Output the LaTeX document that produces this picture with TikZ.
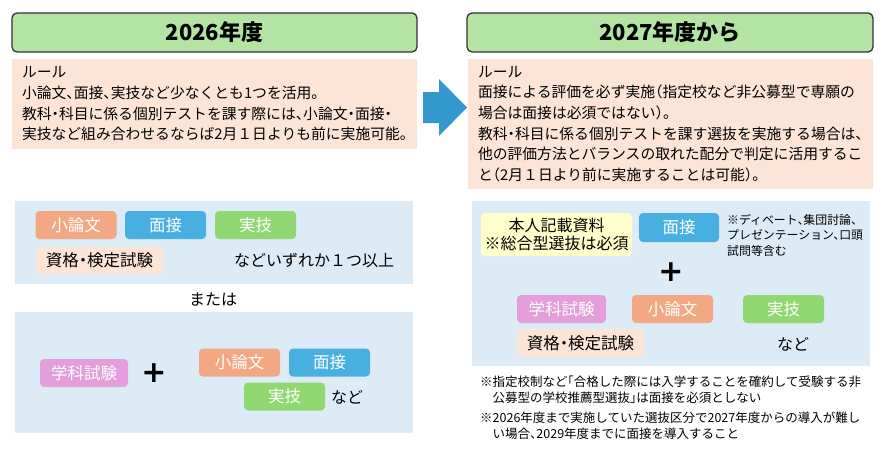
\documentclass[tikz,border=0pt]{standalone}
\usepackage{fontspec}
\setmainfont{Noto Sans CJK JP}[RawFeature=+halt]
\newfontfamily\plusfont{DejaVu Sans}
\definecolor{hdgreen}{HTML}{B4E4A4}
\definecolor{rulepink}{HTML}{FCE4D6}
\definecolor{boxblue}{HTML}{DDEBF7}
\definecolor{tagorange}{HTML}{F2A882}
\definecolor{tagblue}{HTML}{47B0E0}
\definecolor{taggreen}{HTML}{8FD872}
\definecolor{tagpink}{HTML}{E49EDB}
\definecolor{noteyellow}{HTML}{FFFFCC}
\definecolor{arrowblue}{HTML}{3399CC}
\tikzset{
  header/.style={draw=black!80,line width=1.3pt,fill=hdgreen,rounded corners=5pt,minimum width=405pt,minimum height=39pt,font=\fontsize{22}{24}\selectfont\bfseries},
  rulebox/.style={fill=rulepink,align=left,inner xsep=10pt,inner ysep=0pt,font=\fontsize{14.8}{20.7}\selectfont},
  tag/.style={rounded corners=4pt,minimum width=81pt,minimum height=28pt,inner sep=0pt,text=white,font=\fontsize{16.5}{18}\selectfont},
  lighttag/.style={tag,fill=rulepink,text=black,minimum width=127pt},
  plain/.style={inner sep=0pt,font=\fontsize{16}{18}\selectfont},
  plussign/.style={inner sep=0pt,font=\plusfont\bfseries\fontsize{30}{30}\selectfont},
  smallnote/.style={inner sep=0pt,align=left,anchor=north west,font=\fontsize{11.9}{15.5}\selectfont},
  footnote/.style={inner sep=0pt,anchor=west,font=\fontsize{12.5}{16}\selectfont}
}
\begin{document}
\begin{tikzpicture}[x=1pt,y=-1pt]
\useasboundingbox (0,0) rectangle (885,452);

\node[header] (hdold) at (214.5,32.5) {2026年度};
\node[header,minimum width=406pt] (hdnew) at (670,32.5) {2027年度から};

\node[rulebox,text width=385pt,minimum height=90pt] (ruleold) at (214.5,104) {ルール\\小論文、面接、実技など少なくとも1つを活用。\\教科・科目に係る個別テストを課す際には、小論文・面接・\\実技など組み合わせるならば2月１日よりも前に実施可能。};
\node[rulebox,text width=385pt,minimum height=130pt] (rulenew) at (670.5,124) {ルール\\面接による評価を必ず実施（指定校など非公募型で専願の\\場合は面接は必須ではない）。\\教科・科目に係る個別テストを課す選抜を実施する場合は、\\他の評価方法とバランスの取れた配分で判定に活用するこ\\と（2月１日より前に実施することは可能）。};

\fill[arrowblue] (423,92) -- (439,92) -- (439,79) -- (467,107.5) -- (439,136) -- (439,123) -- (423,123) -- cycle;

\fill[boxblue] (15,201) rectangle (413,284);
\fill[boxblue] (15,312) rectangle (413,433);
\fill[boxblue] (472,201) rectangle (870,366);

\node[tag,fill=tagorange] (ronbunA) at (76,225) {小論文};
\node[tag,fill=tagblue] (mensetsuA) at (165.5,225) {面接};
\node[tag,fill=taggreen] (jitsugiA) at (255.5,225) {実技};
\node[lighttag,minimum height=27pt] (shikakuA) at (99.5,260.5) {資格・検定試験};
\node[plain] (izureka) at (314,261) {などいずれか１つ以上};

\node[plain] (mataha) at (213,300) {または};

\node[tag,fill=tagpink,minimum width=88pt] (gakkaB) at (84,373) {学科試験};
\node[plussign] (plusB) at (154,373) {+};
\node[tag,fill=tagorange] (ronbunB) at (239.5,362.5) {小論文};
\node[tag,fill=tagblue] (mensetsuB) at (329.5,362.5) {面接};
\node[tag,fill=taggreen] (jitsugiB) at (284.5,396.5) {実技};
\node[plain,anchor=west] (nadoB) at (331,397) {など};

\node[tag,fill=noteyellow,text=black,minimum width=151pt,minimum height=43pt,align=center,font=\fontsize{16}{18}\selectfont] (honnin) at (556.5,234.5) {本人記載資料\\※総合型選抜は必須};
\node[tag,fill=tagblue,minimum width=80pt,minimum height=29pt] (mensetsuC) at (679,227.5) {面接};
\node[smallnote] (mensetsunote) at (727,214) {※ディベート、集団討論、\\プレゼンテーション、口頭\\試問等含む};
\node[plussign] (plusC) at (671,272) {+};
\node[tag,fill=tagpink,minimum width=89pt] (gakkaC) at (561.5,309) {学科試験};
\node[tag,fill=tagorange] (ronbunC) at (672.5,309) {小論文};
\node[tag,fill=taggreen] (jitsugiC) at (783.5,309) {実技};
\node[lighttag] (shikakuC) at (580.5,343) {資格・検定試験};
\node[plain] (nadoC) at (793,344) {など};

\node[footnote] (fnone) at (480,382) {※指定校制など「合格した際には入学することを確約して受験する非};
\node[footnote] (fnonecont) at (492.5,398) {公募型の学校推薦型選抜」は面接を必須としない};
\node[footnote] (fntwo) at (480,418) {※2026年度まで実施していた選抜区分で2027年度からの導入が難し};
\node[footnote] (fntwocont) at (492.5,434) {い場合、2029年度までに面接を導入すること};
\end{tikzpicture}
\end{document}
